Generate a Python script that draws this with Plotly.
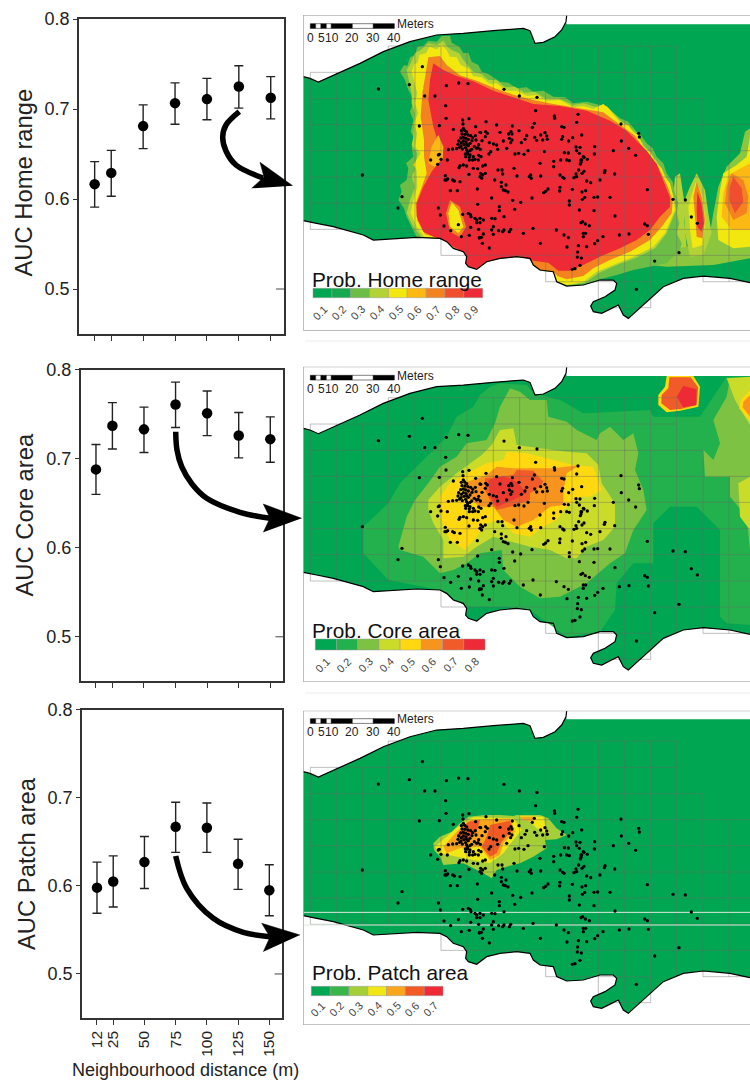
import plotly.graph_objects as go

W, H = 750, 1081
BODY = 0
FONT = "Liberation Sans"

# ---------- panel data ----------
distance = [12, 25, 50, 75, 100, 125, 150]
y_ticks = [0.5, 0.6, 0.7, 0.8]
auc_home = [0.6165, 0.629, 0.681, 0.7065, 0.711, 0.725, 0.7125]
home_hi = [0.6415, 0.654, 0.7046, 0.729, 0.734, 0.748, 0.736]
home_lo = [0.591, 0.603, 0.656, 0.683, 0.688, 0.701, 0.689]
auc_core = [0.688, 0.737, 0.733, 0.761, 0.751, 0.726, 0.722]
core_hi = [0.716, 0.763, 0.758, 0.786, 0.776, 0.752, 0.747]
core_lo = [0.660, 0.711, 0.707, 0.735, 0.726, 0.701, 0.696]
auc_patch = [0.598, 0.605, 0.627, 0.667, 0.666, 0.625, 0.595]
patch_hi = [0.627, 0.634, 0.656, 0.695, 0.694, 0.653, 0.624]
patch_lo = [0.569, 0.576, 0.597, 0.638, 0.638, 0.596, 0.566]

home_cols = ['#00a651', '#16a94f', '#6cbd45', '#b2d235', '#f2e80f', '#fdb913', '#f58220', '#ef4e2f', '#ed2a36']
core_cols = ['#00a651', '#22b14c', '#7dc242', '#cbdb2a', '#ffd80f', '#f7941d', '#f15a29', '#ed2a36']
patch_cols = ['#00a651', '#39b54a', '#a6ce39', '#f2e716', '#faa61a', '#f15a24', '#ed2a36']
home_labels = ['0.1', '0.2', '0.3', '0.4', '0.5', '0.6', '0.7', '0.8', '0.9']
core_labels = home_labels[:8]
patch_labels = home_labels[:7]

# ---------- map geometry (units: map coordinates) ----------
top_coast = [(10, 230), (30, 235), (55, 246), (110, 222), (180, 190), (250, 155), (330, 125), (410, 105), (490, 100),
             (580, 92), (640, 86), (670, 85), (690, 92), (697, 110), (705, 130), (730, 127), (765, 110), (785, 90), (798, 65)]
bottom_coast = [(1350, 848), (1290, 835), (1210, 828), (1150, 835), (1090, 860), (1040, 905), (985, 955), (970, 945),
                (955, 915), (935, 925), (905, 940), (880, 935), (872, 918), (880, 905), (915, 890), (945, 870), (950, 850),
                (940, 840), (900, 840), (850, 855), (800, 858), (770, 845), (760, 815), (720, 810), (700, 795), (690, 775),
                (650, 770), (600, 775), (560, 785), (530, 808), (505, 800), (497, 790), (500, 770), (490, 755), (460, 745),
                (440, 725), (420, 715), (350, 712), (280, 717), (220, 720), (190, 705), (100, 680), (50, 670), (10, 662)]
land = top_coast + [(800, 73), (1350, 73)] + bottom_coast

grid_rows = [(138, 265, 1130), (217, 31, 1130), (296, 31, 1209), (374, 31, 1350), (452, 31, 1350), (531, 31, 1350),
             (609, 31, 1350), (688, 31, 1350), (766, 423, 1350), (845, 737, 1052), (845, 1209, 1350), (923, 895, 1052)]
grid_cols = [(31, 217, 688), (109, 217, 688), (187, 217, 688), (265, 138, 688), (345, 138, 688), (423, 138, 766),
             (501, 138, 766), (580, 138, 766), (659, 138, 766), (737, 138, 845), (816, 138, 845), (895, 138, 923),
             (974, 138, 923), (1052, 138, 923), (1130, 138, 845), (1209, 296, 845), (1287, 374, 845)]

points = [
 (367,200),(328,254),(235,267),(187,525),(306,590),(294,624),(358,378),(374,288),(405,288),(437,317),(438,355),(418,377),
 (439,257),(476,249),(504,251),(612,268),(658,288),(711,292),(707,332),(763,348),(764,355),(834,343),(830,367),(963,372),
 (1016,400),(1018,411),(964,423),(986,445),(1007,466),(940,452),(884,440),(883,462),(1042,569),(1119,598),(1156,600),
 (1174,651),(1192,670),(1034,672),(1042,677),(1045,703),(987,702),(958,705),(945,648),(930,592),(893,591),(882,592),
 (882,632),(909,710),(893,722),(884,731),(860,740),(835,737),(801,741),(721,730),(568,744),(547,730),(539,712),(508,706),
 (484,710),(452,692),(432,678),(475,674),(488,643),(421,645),(415,624),(1137,758),(1064,783),(1009,868),(840,796),(825,806),
 (817,808),(844,774),(832,771),(833,756),(392,480),(413,493),(423,478),(418,463),(442,480),
 (558,365),(527,380),(590,375),(637,378),(633,395),(657,392),(697,382),(703,370),(785,380),(792,382),(845,405),(788,410),
 (785,418),(818,413),(806,423),(735,398),(722,405),(740,408),(742,418),(728,420),(704,412),(710,421),(680,407),(675,418),
 (664,428),(636,402),(626,402),(628,415),(636,420),(632,428),(600,397),(610,423),(590,435),(580,432),(568,428),(540,397),
 (557,395),(562,400),(546,422),(536,434),(534,443),(620,445),(593,448),(572,455),(567,462),(536,466),(556,495),(548,498),
 (642,505),(645,462),(656,460),(672,463),(684,452),(733,455),(720,490),(761,484),(761,500),(782,480),(793,458),(805,459),
 (808,482),(800,480),(828,441),(840,442),(830,452),(838,460),(852,472),(862,478),(843,480),(841,492),(845,480),(850,470),
 (843,487),(846,520),(852,514),(836,510),(828,522),(830,530),(822,533),(915,512),(913,518),(944,522),(900,540),(860,543),
 (872,548),(857,572),(846,576),(854,592),(847,598),(808,603),(808,615),(838,630),(792,535),(788,532),(780,525),(722,528),
 (692,525),(688,530),(694,535),(651,528),(606,510),(594,510),(608,522),(584,540),(604,547),(604,560),(618,555),(610,570),
 (616,572),(624,576),(575,594),(532,567),(472,572),(451,572),(480,545),(458,540),(443,537),(436,527),(435,540),(542,520),
 (548,525),(540,530),(545,535),(556,520),(533,506),(507,523),(520,505),(490,495),(500,498),(477,503),(480,497),(508,480),
 (497,470),(510,465),(503,456),(518,480),(525,478),(535,480),(543,470),(737,574),(744,567),(731,578),(780,562),(779,573),
 (817,568),(696,594),(662,607),(638,601),(644,628),(598,620),(598,632),(533,613),(511,644),(505,640),(513,650),(525,655),
 (530,660),(540,655),(550,660),(530,668),(540,668),(575,655),(585,656),(612,650),(580,680),(575,690),(632,688),(628,695),
 (612,690),(608,695),(596,692),(580,703),(670,700),(699,685),(769,690),(792,705),(805,713),(850,700),(857,700),(850,710),
 (848,665),(843,668),(868,677),(856,672),(512,682),(536,688),(550,702),(538,714),(544,712),
 (488,360),(507,356),(489,372),(490,385),(484,392),(494,391),(500,396),(486,402),(495,403),(504,405),(512,407),(518,413),
 (516,422),(510,430),(505,437),(497,443),(487,447),(479,442),(474,433),(476,423),(482,414),(490,412),(497,415),(505,418),
 (490,423),(498,426),(484,428),(492,434),(500,433),(483,438),(470,446),(458,447),(445,449),(526,407),(460,388),(542,398),
 (556,410),(528,420),(503,462),(508,472),(530,445),(541,448),(523,440),(515,448),(510,452),(500,450),(496,462),(520,470),
 (415,465),(439,540),(463,543)]

# Home-range probability zones (colour, outline) drawn in order
home_zones = [
 ('#b2d235', [(1125,530),(1140,520),(1152,600),(1152,660),(1162,760),(1130,775),(1120,700),(1130,640),(1120,590)]),
 ('#8cc63f', [(1000,790),(1100,750),(1160,740),(1230,700),(1240,640),(1255,560),(1280,500),(1320,460),(1335,395),(1350,385),(1350,775),(1240,795),(1100,800)]),
 ('#b2d235', [(1190,520),(1215,570),(1225,640),(1235,700),(1210,765),(1170,770),(1155,700),(1150,610),(1170,560)]),
 ('#f2e80f', [(1188,545),(1208,590),(1216,660),(1208,735),(1178,745),(1170,690),(1165,620),(1178,575)]),
 ('#f58220', [(1190,545),(1205,590),(1215,660),(1207,715),(1190,710),(1183,640),(1180,590)]),
 ('#ed2a36', [(1192,575),(1204,610),(1212,670),(1204,695),(1192,680),(1190,625)]),
 ('#f2e80f', [(1270,520),(1310,495),(1340,470),(1350,410),(1350,740),(1300,745),(1255,720),(1250,650),(1260,570)]),
 ('#fdb913', [(1285,525),(1320,505),(1350,490),(1350,690),(1295,690),(1265,650),(1270,580)]),
 ('#f58220', [(1295,520),(1330,540),(1345,590),(1340,640),(1300,660),(1275,610),(1280,560)]),
 ('#ef4e2f', [(1300,530),(1325,565),(1330,605),(1305,640),(1288,600),(1290,560)]),
 ('#6cbd45', [(300,215),(312,195),(322,198),(330,172),(345,165),(352,140),(370,138),(385,122),(410,125),(425,108),(450,108),(455,128),(478,140),(490,160),(505,158),(515,185),(535,195),(545,215),(565,222),(600,245),(625,248),(650,265),(680,262),(700,275),(730,272),(760,290),(795,292),(820,310),(860,305),(900,315),(930,330),(960,355),(985,365),(1010,395),(1022,405),(1040,430),(1058,445),(1070,470),(1090,490),(1100,520),(1118,545),(1125,580),(1135,610),(1130,640),(1138,670),(1130,700),(1145,730),(1140,750),(1100,790),(1050,800),(1000,810),(950,825),(900,838),(860,852),(800,857),(770,845),(760,817),(720,812),(700,797),(690,777),(650,772),(600,777),(560,787),(530,806),(505,798),(497,790),(500,770),(490,755),(460,745),(440,725),(420,717),(350,712),(335,680),(320,650),(312,625),(295,600),(305,575),(300,555),(320,540),(325,505),(318,490),(340,470),(335,440),(345,420),(332,395),(340,360),(330,335),(343,300),(325,270),(315,240)]),
 ('#b2d235', [(320,210),(332,190),(345,160),(362,150),(385,130),(410,135),(430,122),(442,140),(455,150),(478,160),(490,180),(520,215),(545,222),(565,240),(590,240),(615,262),(645,260),(675,278),(705,275),(735,295),(775,295),(820,315),(850,310),(885,320),(920,318),(960,360),(1005,395),(1035,440),(1075,490),(1098,530),(1122,590),(1128,630),(1100,700),(1065,745),(1005,775),(950,795),(895,820),(855,848),(800,856),(770,844),(760,815),(720,810),(700,795),(690,775),(650,770),(600,775),(560,785),(530,808),(505,800),(497,790),(500,770),(490,755),(460,745),(440,725),(420,715),(365,712),(340,680),(320,640),(330,600),(345,560),(335,530),(345,510),(352,460),(335,435),(340,410),(345,340),(335,310),(335,280)]),
 ('#f2e80f', [(335,215),(342,192),(352,190),(358,165),(378,160),(388,140),(410,148),(425,135),(440,150),(450,170),(470,172),(482,195),(505,205),(520,228),(545,232),(570,252),(590,250),(620,272),(650,272),(680,287),(710,285),(740,302),(780,300),(820,322),(850,318),(880,327),(910,312),(925,325),(960,367),(985,375),(1000,397),(1015,405),(1030,442),(1050,455),(1070,492),(1085,505),(1095,532),(1110,550),(1120,592),(1125,630),(1095,700),(1060,740),(1000,770),(950,790),(890,815),(850,845),(800,855),(770,843),(760,815),(720,810),(700,795),(690,775),(650,770),(600,775),(560,785),(530,808),(505,800),(497,790),(500,770),(490,755),(460,745),(440,725),(420,715),(372,710),(350,680),(332,640),(340,600),(352,560),(350,510),(340,495),(362,460),(345,440),(352,400),(342,370),(355,340),(345,310),(352,280)]),
 ('#f58220', [(385,172),(420,168),(440,195),(480,226),(530,242),(590,267),(640,284),(700,300),(760,312),(850,327),(910,337),(960,374),(1005,407),(1035,452),(1075,502),(1100,552),(1118,602),(1115,640),(1085,680),(1050,720),(990,755),(930,780),(880,805),(850,828),(800,838),(772,828),(760,815),(720,810),(700,795),(690,775),(650,770),(600,775),(560,785),(530,808),(505,800),(497,790),(500,770),(490,755),(460,745),(440,725),(420,715),(375,703),(352,662),(347,612),(367,560),(380,520),(372,470),(372,420),(362,350),(367,280),(377,220)]),
 ('#ed2a36', [(400,190),(430,210),(470,228),(520,244),(580,272),(640,292),(700,312),(780,318),(860,332),(930,362),(980,392),(1010,422),(1040,452),(1070,492),(1090,542),(1110,592),(1110,620),(1080,650),(1050,690),(1010,720),(960,745),(900,770),(850,795),(810,812),(775,812),(745,788),(700,782),(660,768),(600,775),(560,785),(530,806),(505,798),(497,790),(500,770),(490,755),(460,740),(430,720),(400,710),(370,695),(350,650),(350,610),(370,560),(395,515),(425,475),(415,430),(400,380),(385,300),(390,240)]),
 ('#f58220', [(450,600),(480,620),(498,680),(480,712),(450,695),(438,640)]),
 ('#f2e80f', [(455,605),(475,630),(490,680),(475,700),(450,680),(445,640)]),
 ('#fdb913', [(395,440),(415,405),(430,440),(428,475),(405,500),(385,490)]),
]
core_zones = [
 ('#22b14c', [(190,530),(190,610),(265,690),(420,720),(500,770),(620,770),(690,780),(760,830),(800,860),(900,845),(945,780),(950,700),(1000,640),(1060,640),(1060,520),(1110,470),(1190,470),(1260,540),(1260,800),(1280,820),(1350,825),(1350,80),(1280,80),(1200,200),(1060,200),(1050,180),(950,185),(850,190),(780,150),(700,130),(680,105),(600,100),(570,110),(540,135),(520,170),(470,200),(440,260),(390,310),(300,400),(265,460)]),
 ('#7dc242', [(295,590),(320,500),(345,450),(385,400),(420,350),(470,320),(500,280),(560,270),(585,220),(600,170),(630,115),(660,125),(690,150),(740,150),(745,200),(800,215),(830,240),(890,270),(900,250),(930,230),(970,270),(1000,250),(1015,310),(1005,360),(1030,420),(1040,480),(1000,540),(975,610),(930,640),(860,700),(780,740),(720,745),(660,710),(610,660),(605,600),(540,610),(500,640),(460,660),(420,670),(370,620),(300,600)]),
 ('#7dc242', [(1350,90),(1290,85),(1280,140),(1240,210),(1260,280),(1240,330),(1210,300),(1215,380),(1290,380),(1290,440),(1340,500),(1350,600)]),
 ('#cbdb2a', [(385,450),(420,410),(470,370),(510,340),(545,315),(575,285),(600,240),(640,235),(650,285),(720,295),(800,305),(860,310),(895,345),(905,400),(945,460),(945,530),(910,570),(860,590),(830,625),(800,625),(750,600),(690,590),(620,570),(580,560),(530,590),(490,620),(430,625),(430,570),(400,520),(385,480)]),
 ('#cbdb2a', [(1280,85),(1350,80),(1350,225),(1305,150)]),
 ('#cbdb2a', [(1315,400),(1350,380),(1350,540),(1320,500)]),
 ('#ffd80f', [(420,440),(450,400),(500,370),(560,340),(610,330),(620,305),(680,310),(760,330),(820,345),(880,350),(905,420),(870,440),(840,440),(790,480),(770,510),(730,530),(690,560),(640,550),(600,510),(560,520),(530,560),(495,600),(450,570),(430,530),(420,480)]),
 ('#f7941d', [(490,400),(560,375),(590,350),(640,355),(710,355),(760,355),(840,345),(800,370),(790,420),(790,465),(750,470),(700,510),(650,530),(610,510),(580,470),(540,470),(500,440)]),
 ('#f15a29', [(555,385),(640,375),(650,360),(700,362),(730,395),(720,410),(690,430),(690,450),(630,470),(590,480),(570,450),(555,420)]),
 ('#ed3a30', [(565,390),(610,378),(650,395),(680,430),(640,450),(590,470),(570,440)]),
 ('#ffd80f', [(1100,78),(1180,78),(1200,110),(1195,170),(1140,182),(1100,187),(1075,165),(1075,135),(1095,110)]),
 ('#f15a29', [(1108,82),(1172,82),(1194,112),(1190,165),(1145,176),(1110,180),(1084,160),(1085,135),(1105,115)]),
 ('#ed2a36', [(1150,108),(1190,118),(1188,165),(1150,172),(1130,140)]),
 ('#ffd80f', [(1350,120),(1322,150),(1318,175),(1350,215)]),
 ('#f7941d', [(1350,135),(1330,155),(1328,172),(1350,200)]),
]
patch_zones = [
 ('#a6ce39', [(400,430),(420,410),(455,395),(480,370),(505,350),(555,345),(600,345),(640,348),(650,345),(720,345),(745,355),(770,385),(800,405),(770,418),(735,420),(740,445),(700,470),(660,490),(620,500),(590,510),(575,535),(550,520),(520,505),(490,490),(430,495),(420,470),(402,450)]),
 ('#f2e716', [(405,440),(440,410),(480,375),(520,352),(640,355),(665,390),(640,420),(610,460),(570,490),(520,480),(470,470),(420,460)]),
 ('#f2e716', [(655,348),(730,350),(740,400),(710,385),(690,365)]),
 ('#faa61a', [(430,440),(470,395),(510,360),(630,355),(645,395),(610,430),(600,465),(570,480),(540,440),(480,445),(440,460)]),
 ('#faa61a', [(660,350),(700,350),(700,365),(670,360)]),
 ('#f15a24', [(470,405),(505,365),(540,360),(530,395),(490,425)]),
 ('#f15a24', [(570,375),(630,362),(638,390),(605,425),(590,460),(570,470),(545,440),(560,410)]),
]

# ---------- layout helpers ----------
FW, FH = W - BODY, H - BODY
def xdom(a, b):
    return [(a - BODY) / FW, (b - BODY) / FW]
def ydom(top, bot):
    return [1 - (bot - BODY) / FH, 1 - (top - BODY) / FH]

fig = go.Figure()
layout = dict(width=FW, height=FH, margin=dict(l=0, r=0, t=0, b=0, pad=0), paper_bgcolor='white', plot_bgcolor='rgba(0,0,0,0)',
              showlegend=False, template='none', font=dict(family=FONT, color='#222'))

panels = [
    dict(x=(79, 284), y=(19, 334), xr=(-0.27, 160.4), vals=auc_home, hi=home_hi, lo=home_lo, labels=False),
    dict(x=(80.7, 283.3), y=(369.7, 681.3), xr=(-0.1, 160.3), vals=auc_core, hi=core_hi, lo=core_lo, labels=False),
    dict(x=(82, 282.3), y=(709.7, 1018), xr=(0, 160.4), vals=auc_patch, hi=patch_hi, lo=patch_lo, labels=True),
]
for i, p in enumerate(panels, start=1):
    xa, ya = f'x{i}', f'y{i}'
    fig.add_trace(go.Scatter(x=[p['xr'][1] - 6.2, p['xr'][1]], y=[0.5, 0.5], mode='lines',
                             line=dict(color='#444', width=1), xaxis=xa, yaxis=ya))
    fig.add_trace(go.Scatter(
        x=distance, y=p['vals'], mode='markers', xaxis=xa, yaxis=ya,
        marker=dict(color='black', size=10.5),
        error_y=dict(type='data', symmetric=False,
                     array=[h - v for h, v in zip(p['hi'], p['vals'])],
                     arrayminus=[v - l for l, v in zip(p['lo'], p['vals'])],
                     color='#222', thickness=1.4, width=4.5)))
    layout[f'xaxis{i}'] = dict(domain=xdom(*p['x']), range=list(p['xr']), anchor=ya, tickmode='array', automargin=False,
                               tickvals=distance, ticktext=[str(d) for d in distance] if p['labels'] else [''] * 7,
                               tickangle=-90, ticks='outside', ticklen=5, tickwidth=1.2, tickcolor='#333',
                               showline=True, linecolor='#333', linewidth=1.6, mirror=True, showgrid=False,
                               zeroline=False, tickfont=dict(size=15.5, family=FONT, color='#222'), fixedrange=True)
    layout[f'yaxis{i}'] = dict(domain=ydom(*p['y']), range=[0.45, 0.8], anchor=xa, tickmode='array', tickvals=y_ticks,
                               ticktext=[f'{t:.1f}' for t in y_ticks], ticks='outside', ticklen=4, tickwidth=1.2,
                               tickcolor='#333', showline=True, linecolor='#333', linewidth=1.6, mirror=True, automargin=False,
                               showgrid=False, zeroline=False, tickfont=dict(size=18, family=FONT, color='#222'),
                               fixedrange=True)

grid_x, grid_y = [], []
for y, a, b in grid_rows:
    grid_x += [a, b, None]; grid_y += [y, y, None]
for x, a, b in grid_cols:
    grid_x += [x, x, None]; grid_y += [a, b, None]

maps = [
    dict(dy=0, top=45, bot=992, y=(15, 330.7), zones=home_zones),
    dict(dy=5, top=50, bot=996, y=(366.7, 682), zones=core_zones),
    dict(dy=-15, top=32, bot=975, y=(710.7, 1025), zones=patch_zones),
]
for j, m in enumerate(maps, start=4):
    xa, ya = f'x{j}', f'y{j}'
    d = m['dy']
    shift = lambda pts: ([q[0] for q in pts], [q[1] + d for q in pts])
    lx, ly = shift(land)
    fig.add_trace(go.Scatter(x=lx, y=ly, mode='lines', fill='toself', fillcolor='#00a651',
                             line=dict(width=0), xaxis=xa, yaxis=ya))
    for col, poly in m['zones']:
        fig.add_trace(go.Scatter(x=[q[0] for q in poly], y=[q[1] for q in poly], mode='lines', fill='toself',
                                 fillcolor=col, line=dict(width=0), xaxis=xa, yaxis=ya))
    fig.add_trace(go.Scatter(x=grid_x, y=[None if g is None else g + d for g in grid_y], mode='lines',
                             line=dict(color='rgba(105,105,105,0.42)', width=1), xaxis=xa, yaxis=ya))
    tx, ty = shift(top_coast + [(800, 47)])
    fig.add_trace(go.Scatter(x=tx, y=ty, mode='lines', line=dict(color='black', width=1.2), xaxis=xa, yaxis=ya))
    bx, by = shift(bottom_coast)
    fig.add_trace(go.Scatter(x=bx, y=by, mode='lines', line=dict(color='black', width=1.2), xaxis=xa, yaxis=ya))
    if j == 6:
        fig.add_trace(go.Scatter(x=[10, 1350, None, 10, 1350], y=[637, 637, None, 675, 675], mode='lines',
                                 line=dict(color='#dfe8df', width=1), xaxis=xa, yaxis=ya))
    px, py = shift(points)
    fig.add_trace(go.Scatter(x=px, y=py, mode='markers', marker=dict(color='black', size=3.3), xaxis=xa, yaxis=ya))
    fig.add_trace(go.Scatter(x=[1350, 10, 10, 1350], y=[m['top'], m['top'], m['bot'], m['bot']], mode='lines',
                             line=dict(color='#8a8a8a', width=1), cliponaxis=False, xaxis=xa, yaxis=ya))
    layout[f'xaxis{j}'] = dict(domain=xdom(303.33, W), range=[10, 1350], anchor=ya, visible=False, fixedrange=True)
    layout[f'yaxis{j}'] = dict(domain=ydom(*m['y']), range=[m['bot'], m['top']], anchor=xa, visible=False, fixedrange=True)

# overlay axes in page units for the arrows, legends and labels
OV = dict(xaxis='x7', yaxis='y7')
layout['xaxis7'] = dict(domain=[0, 1], range=[BODY, W], anchor='y7', visible=False, fixedrange=True)
layout['yaxis7'] = dict(domain=[0, 1], range=[H, BODY], anchor='x7', visible=False, fixedrange=True)

arrows = [
    ([(239.3, 111.7), (226, 125), (222.7, 137), (226, 151), (236, 165), (263, 178)],
     [(292.7, 185.7), (260, 162.3), (264, 177), (251.7, 188.3)]),
    ([(175.7, 431.7), (177, 450), (181.7, 466.7), (192, 484), (206.7, 498.3), (240, 512.3), (270, 518.3)],
     [(301.7, 518.3), (263.3, 504), (270, 518), (263.3, 532.3)]),
    ([(175.7, 856), (186.7, 888.3), (213.3, 918.3), (243.3, 932.3), (270, 936.7)],
     [(300, 935), (261.7, 923.3), (270, 937), (263.3, 951.7)]),
]
for path, head in arrows:
    fig.add_trace(go.Scatter(x=[q[0] for q in path], y=[q[1] for q in path], mode='lines',
                             line=dict(color='black', width=5.5, shape='spline'), **OV))
    fig.add_trace(go.Scatter(x=[q[0] for q in head], y=[q[1] for q in head], mode='lines', fill='toself',
                             fillcolor='black', line=dict(color='black', width=0.5), **OV))

shapes, annos = [], []
def text(x, y, s, size, anchor='left', angle=0, color='#222', vanchor='middle'):
    annos.append(dict(x=x, y=y, xref='x7', yref='y7', text=s, showarrow=False, xanchor=anchor, yanchor=vanchor,
                      textangle=angle, font=dict(size=size, family=FONT, color=color), borderpad=0, borderwidth=0))

text(22.5, 183, 'AUC Home range', 23.8, 'center', -90)
text(23.5, 515, 'AUC Core area', 23.8, 'center', -90)
text(26, 864, 'AUC Patch area', 23.8, 'center', -90)
text(185, 1070, 'Neighbourhood distance (m)', 18, 'center')

scale_edges = [31, 47, 63, 79, 94, 157, 220, 283]
scale_labels = [(31, '0'), (63, '5'), (95, '10'), (156, '20'), (219, '30'), (282, '40')]
for bar_top, meters_y, nums_y in [(23.7, 24.3, 37.7), (375.3, 376, 389.3), (718.7, 719.3, 732.3)]:
    for k in range(len(scale_edges) - 1):
        shapes.append(dict(type='rect', xref='x7', yref='y7', x0=300 + scale_edges[k] / 3, x1=300 + scale_edges[k + 1] / 3,
                           y0=bar_top, y1=bar_top + 4.7, fillcolor='black' if k % 2 == 0 else 'white',
                           line=dict(color='black', width=0.5), layer='above'))
    text(396.5, meters_y, 'Meters', 12)
    for zx, s in scale_labels:
        text(300 + zx / 3, nums_y, s, 12, 'center')

legends = [
    ('Prob. Home range', 312, 279.3, 313, 482.7, 288.3, 297.7, home_cols, home_labels, 312.5),
    ('Prob. Core area', 312.3, 630, 315.3, 485, 639, 650, core_cols, core_labels, 665),
    ('Prob. Patch area', 312, 972, 311.3, 443, 986.3, 995.7, patch_cols, patch_labels, 1009),
]
for title, tx, ty, x0, x1, y0, y1, cols, labels, ly in legends:
    text(tx, ty, title, 20.8, color='#111')
    step = (x1 - x0) / len(cols)
    for k, c in enumerate(cols):
        shapes.append(dict(type='rect', xref='x7', yref='y7', x0=x0 + k * step, x1=x0 + (k + 1) * step, y0=y0, y1=y1,
                           fillcolor=c, line=dict(color='#999', width=0.5), layer='above'))
        text(x0 + (k + 0.35) * step, ly, labels[k], 11, 'center', -45, '#444')

for y in (341, 693):
    shapes.append(dict(type='line', xref='x7', yref='y7', x0=305, x1=W, y0=y, y1=y, line=dict(color='#ececec', width=1)))

layout['shapes'] = shapes
layout['annotations'] = annos
fig.update_layout(**layout)
fig.write_html("out.html", config={'displayModeBar': False}, post_script="document.body.style.margin='0';")
